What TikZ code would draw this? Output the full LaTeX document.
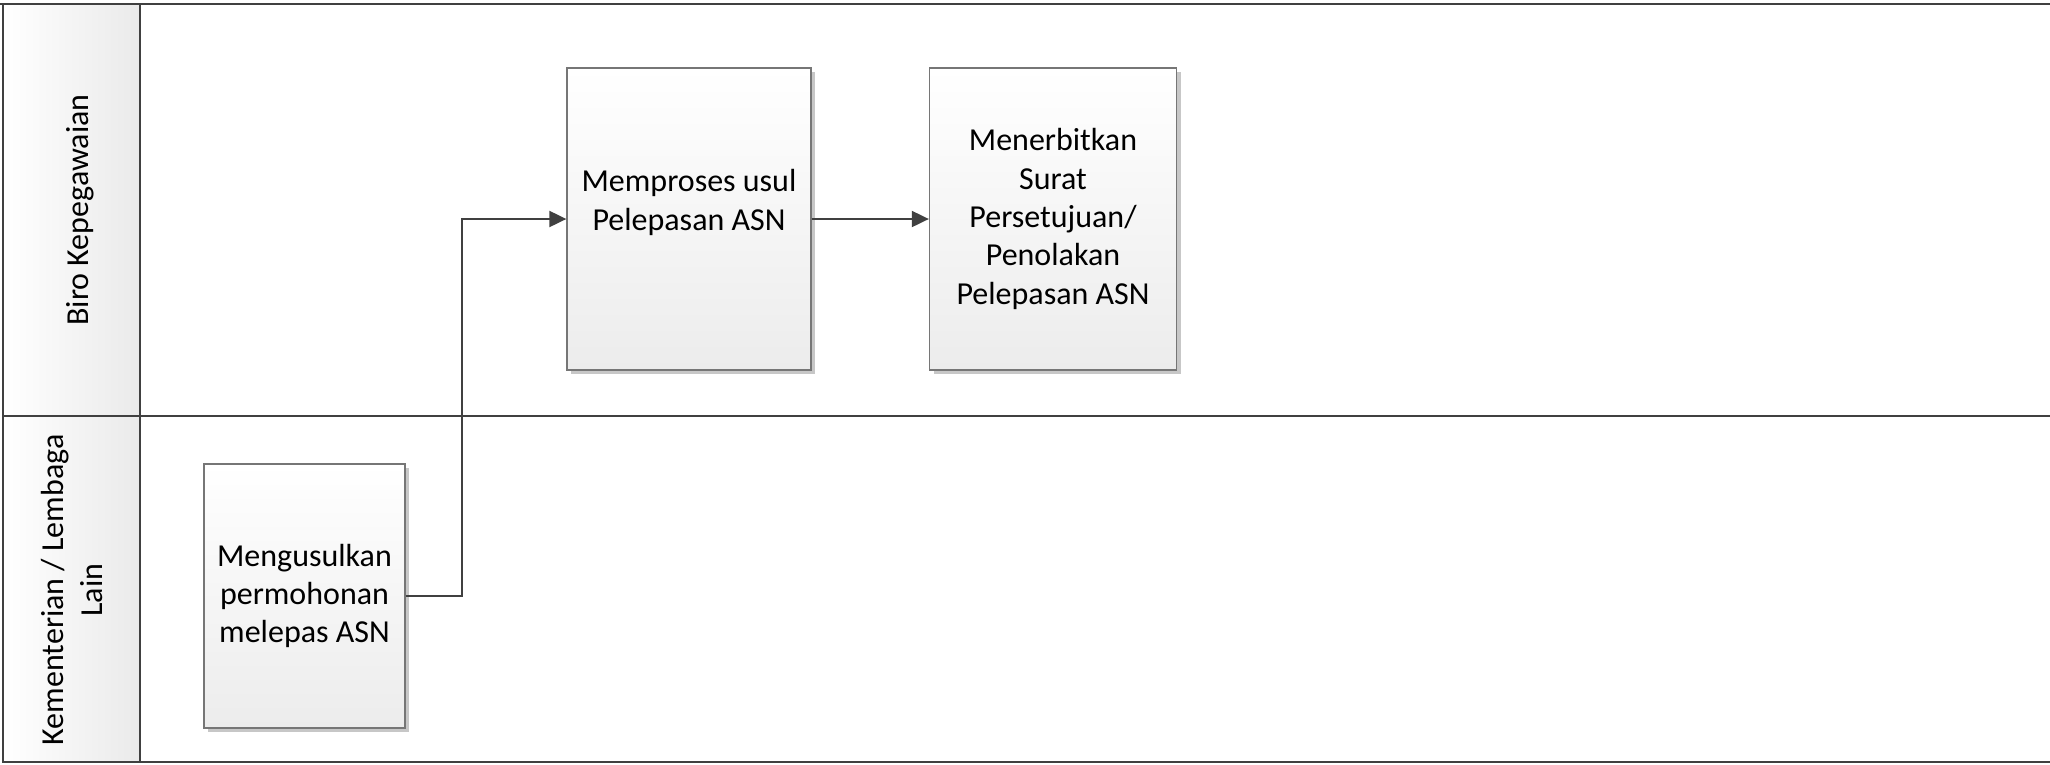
\documentclass[tikz,border=0pt]{standalone}
\usepackage{fontspec}
\setmainfont{Carlito}
\usetikzlibrary{arrows.meta,shadows,positioning}

\definecolor{laneline}{HTML}{404040}
\definecolor{boxline}{HTML}{767676}
\definecolor{boxgrey}{HTML}{ECECEC}
\definecolor{headgrey}{HTML}{EAEAEA}

\tikzset{
  taskbox/.style={draw=boxline, line width=1.3pt, top color=white, bottom color=boxgrey,
    align=center, inner sep=0pt, font=\fontsize{32}{38.3}\selectfont,
    drop shadow={shadow xshift=4pt, shadow yshift=-4pt, opacity=0.22, fill=black}},
  lanelabel/.style={rotate=90, align=center, inner sep=0pt, font=\fontsize{32}{38.3}\selectfont},
  laneframe/.style={draw=laneline, line width=2.5pt},
  flow/.style={draw=laneline, line width=2pt, -{Triangle[length=17pt,width=16pt]}}
}

\begin{document}
\begin{tikzpicture}[x=1pt, y=-1pt]
    \useasboundingbox (0,0) rectangle (2050,764);

    % Lane headers (shaded column)
    \shade[left color=white, right color=headgrey] (3,4) rectangle (140,762);

    % Pool frame and lane dividers
    \draw[laneframe] (0,4) -- (2050,4);
    \draw[laneframe] (3,4) -- (3,763);
    \draw[laneframe] (140,4) -- (140,763);
    \draw[laneframe] (3,416) -- (2050,416);
    \draw[laneframe] (3,762) -- (2050,762);

    % Lane names
    \node[lanelabel] (biro) at (80,210) {Biro Kepegawaian};
    \node[lanelabel] (kl) at (72,590) {Kementerian / Lembaga\\Lain};

    % Tasks
    \node[taskbox, minimum width=201pt, minimum height=264pt] (usul) at (304.5,596)
        {Mengusulkan\\permohonan\\melepas ASN};
    \node[taskbox, minimum width=244pt, minimum height=302pt] (proses) at (689,219)
        {Memproses usul\\Pelepasan ASN\\\mbox{}};
    \node[taskbox, minimum width=247pt, minimum height=302pt] (terbit) at (1053,219)
        {Menerbitkan\\Surat\\Persetujuan/\\Penolakan\\Pelepasan ASN};

    % Flow
    \draw[flow] (usul.east) -- ++(56,0) |- (proses.west);
    \draw[flow] (proses.east) -- (terbit.west);
\end{tikzpicture}
\end{document}
